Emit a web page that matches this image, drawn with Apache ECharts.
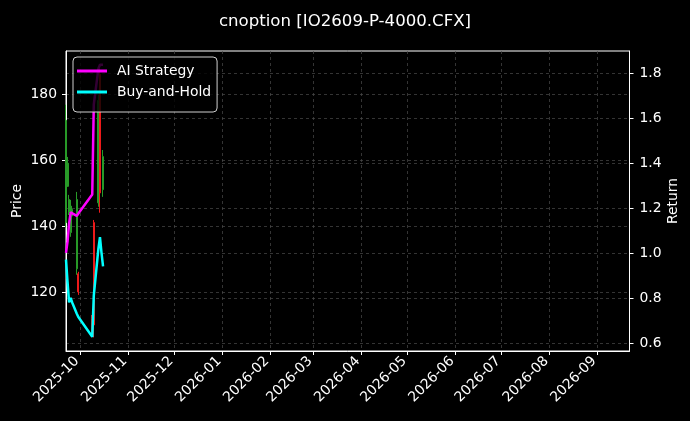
<!DOCTYPE html>
<html>
<head>
<meta charset="utf-8">
<script src="https://cdn.jsdelivr.net/npm/echarts@6/dist/echarts.min.js"></script>
<style>
html,body{margin:0;padding:0;background:#000;}
#chart{width:690px;height:421px;}
</style>
</head>
<body>
<div id="chart"></div>
<script>
const titleText = 'cnoption [IO2609-P-4000.CFX]';
const xStart = '2025-09-22';
const xEnd = '2026-09-22';
const monthTicks = ['2025-10-01','2025-11-01','2025-12-01','2026-01-01','2026-02-01','2026-03-01','2026-04-01','2026-05-01','2026-06-01','2026-07-01','2026-08-01','2026-09-01'];
const priceTicks = [120, 140, 160, 180];
const returnTicks = [0.6, 0.8, 1.0, 1.2, 1.4, 1.6, 1.8];

const candleDates = ['2025-09-22','2025-09-23','2025-09-24','2025-09-25','2025-09-26','2025-09-29','2025-09-30','2025-10-09','2025-10-10','2025-10-13','2025-10-14','2025-10-16'];
const opens  = [141, 152, 144, 138, 143, 127, 125.5, 112, 141, 147, 186, 151];
const closes = [172, 159, 148, 146, 145, 148, 120, 108, 110, 178, 150, 161];
const lows   = [139.5, 151.8, 143.3, 136.7, 142, 125.2, 119.1, 107, 106.2, 145.8, 144, 148.8];
const highs  = [176.7, 160.9, 149.4, 147.9, 146, 150.3, 126.1, 113, 141.8, 179.7, 188.9, 163];

const lineDates = ['2025-09-22','2025-09-23','2025-09-24','2025-09-25','2025-09-26','2025-09-29','2025-09-30','2025-10-09','2025-10-10','2025-10-13','2025-10-14','2025-10-15','2025-10-16'];
const aiStrategy = [1.00, 1.05, 1.13, 1.18, 1.18, 1.165, 1.175, 1.26, 1.66, 1.82, 1.837, 1.837, 1.837];
const buyHold    = [0.97, 0.87, 0.78, 0.80, 0.78, 0.73, 0.715, 0.627, 0.81, 1.02, 1.07, 1.00, 0.94];

const ts = s => Date.UTC(+s.slice(0, 4), +s.slice(5, 7) - 1, +s.slice(8, 10));
const pad = n => (n < 10 ? '0' : '') + n;
const fmtMonth = v => { const d = new Date(v); return d.getUTCFullYear() + '-' + pad(d.getUTCMonth() + 1); };

const candleData = candleDates.map((d, i) => [ts(d), opens[i], closes[i], lows[i], highs[i]]);
const aiData = lineDates.map((d, i) => [ts(d), aiStrategy[i]]);
const bhData = lineDates.map((d, i) => [ts(d), buyHold[i]]);
const tickTimes = monthTicks.map(ts);

const font = 'DejaVu Sans';
const fs = 13.9;
const gridLine = { show: true, lineStyle: { color: '#4a4a4a', type: [3, 3], width: 0.7 } };

const chart = echarts.init(document.getElementById('chart'), null, { renderer: 'canvas' });
chart.setOption({
  backgroundColor: '#000',
  animation: false,
  textStyle: { fontFamily: font },
  title: {
    text: titleText, left: 'center', top: 8,
    textStyle: { color: '#fff', fontSize: 16.6, fontWeight: 'normal', fontFamily: font }
  },
  legend: {
    data: [{ name: 'AI Strategy', icon: 'rect' }, { name: 'Buy-and-Hold', icon: 'rect' }],
    orient: 'vertical', left: 73, top: 57,
    itemWidth: 30, itemHeight: 3, itemGap: 7,
    padding: [7, 6, 13, 4],
    backgroundColor: 'rgba(0,0,0,0.8)', borderColor: '#cfcfcf', borderWidth: 1, borderRadius: 4,
    textStyle: { color: '#fff', fontSize: fs, fontFamily: font, padding: [0, 0, 0, 5] },
    selectedMode: false
  },
  grid: { left: 66, right: 60.5, top: 51, bottom: 70, outerBoundsMode: 'none', containLabel: false, show: true, borderColor: '#fff', borderWidth: 1, backgroundColor: 'transparent' },
  xAxis: {
    type: 'value', min: ts(xStart), max: ts(xEnd), scale: true,
    axisLine: { show: true, onZero: false, lineStyle: { color: '#fff', width: 1 } },
    axisTick: { show: true, length: 4, lineStyle: { color: '#fff' }, customValues: tickTimes },
    axisLabel: {
      customValues: tickTimes, rotate: 45, color: '#fff', fontSize: fs, margin: 5, fontFamily: font,
      padding: [0, 4, 0, 0],
      formatter: v => fmtMonth(v)
    },
    splitLine: gridLine
  },
  yAxis: [{
    type: 'value', min: 102.1, max: 193, position: 'left',
    name: 'Price', nameLocation: 'middle', nameGap: 42, nameRotate: 90, nameMoveOverlap: false,
    nameTextStyle: { color: '#fff', fontSize: fs, fontFamily: font },
    axisLine: { show: true, onZero: false, lineStyle: { color: '#fff' } },
    axisTick: { show: true, length: 4, lineStyle: { color: '#fff' }, customValues: priceTicks },
    axisLabel: { customValues: priceTicks, color: '#fff', fontSize: fs, margin: 9, fontFamily: font },
    splitLine: gridLine
  }, {
    type: 'value', min: 0.564, max: 1.898, position: 'right',
    name: 'Return', nameLocation: 'middle', nameGap: 37, nameRotate: 90, nameMoveOverlap: false,
    nameTextStyle: { color: '#fff', fontSize: fs, fontFamily: font },
    axisLine: { show: true, onZero: false, lineStyle: { color: '#fff' } },
    axisTick: { show: true, length: 4, lineStyle: { color: '#fff' }, customValues: returnTicks },
    axisLabel: { customValues: returnTicks, color: '#fff', fontSize: fs, margin: 10, fontFamily: font, formatter: v => v.toFixed(1) },
    splitLine: gridLine
  }],
  series: [{
    type: 'candlestick', name: 'Price', xAxisIndex: 0, yAxisIndex: 0,
    data: candleData, barWidth: 1.5,
    itemStyle: { color: '#289a28', color0: '#ee1a1a', borderColor: '#289a28', borderColor0: '#ee1a1a', borderWidth: 1 },
    z: 2
  }, {
    type: 'line', name: 'AI Strategy', yAxisIndex: 1, data: aiData,
    showSymbol: false, lineStyle: { color: '#ff00ff', width: 2.5 }, itemStyle: { color: '#ff00ff' }, z: 3
  }, {
    type: 'line', name: 'Buy-and-Hold', yAxisIndex: 1, data: bhData,
    showSymbol: false, lineStyle: { color: '#00ffff', width: 2.5 }, itemStyle: { color: '#00ffff' }, z: 3
  }]
});
</script>
</body>
</html>
